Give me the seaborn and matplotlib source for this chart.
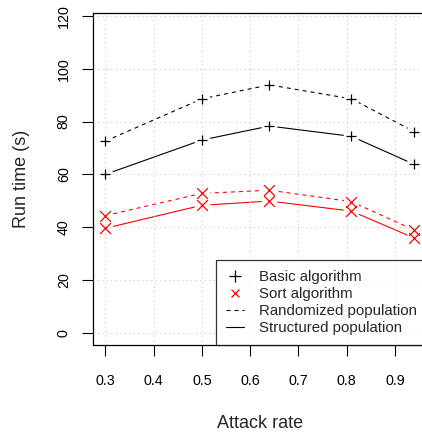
import pandas as pd
import matplotlib.pyplot as plt
import seaborn as sns
from matplotlib.lines import Line2D

# data
attack_rate = [0.3, 0.5, 0.64, 0.81, 0.94]
basic_randomized = [72.6, 88.6, 93.9, 88.6, 76.2]
basic_structured = [60.0, 73.0, 78.3, 74.4, 63.8]
sort_randomized = [44.4, 52.8, 54.0, 49.7, 38.9]
sort_structured = [39.6, 48.3, 49.9, 46.1, 35.9]
x_ticks = [0.3, 0.4, 0.5, 0.6, 0.7, 0.8, 0.9]
y_ticks = [0, 20, 40, 60, 80, 100, 120]

rows = []
for algo, pop, vals in [('Basic', 'Randomized', basic_randomized),
                        ('Basic', 'Structured', basic_structured),
                        ('Sort', 'Randomized', sort_randomized),
                        ('Sort', 'Structured', sort_structured)]:
    for x, v in zip(attack_rate, vals):
        rows.append({'rate': x, 'time': v, 'algorithm': algo, 'population': pop})
df = pd.DataFrame(rows)

sns.set_style('ticks')
plt.rcParams['font.family'] = ['Liberation Sans', 'DejaVu Sans']

fig = plt.figure(figsize=(4.22, 4.34), dpi=100)
ax = fig.add_axes([93 / 422, 89 / 434, 333.5 / 422, 332 / 434])

colors = {'Basic': 'black', 'Sort': 'red'}

# lines (type "b" style: gaps around the points)
sns.lineplot(data=df, x='rate', y='time', hue='algorithm', style='population',
             palette=colors, dashes={'Randomized': (3.6, 3.6), 'Structured': ''},
             linewidth=0.8, legend=False, ax=ax, zorder=1.5)
ax.scatter(df['rate'], df['time'], s=130, color='white', linewidths=0, zorder=2)

# points
for algo, mk in [('Basic', '+'), ('Sort', 'x')]:
    sub = df[df['algorithm'] == algo]
    ax.scatter(sub['rate'], sub['time'], marker=mk, s=60, color=colors[algo],
               linewidths=0.9, zorder=3)

ax.set_xlim(0.2744, 0.9656)
ax.set_ylim(-4.6, 121.1)
ax.set_xticks(x_ticks)
ax.set_yticks(y_ticks)
ax.set_xticklabels([f'{t:.1f}' for t in x_ticks])
ax.set_yticklabels([str(t) for t in y_ticks], rotation=90, va='center')
ax.tick_params(direction='out', length=8, width=0.8, colors='black', labelsize=10.3, pad=8)
ax.tick_params(axis='x', pad=13)

ax.set_axisbelow(False)
ax.grid(True, color='#c8c8c8', linestyle=(0, (1, 3)), linewidth=0.8)
for s in ax.spines.values():
    s.set_color('black')
    s.set_linewidth(0.9)

ax.set_xlabel('Attack rate', fontsize=13, labelpad=19)
ax.set_ylabel('Run time (s)', fontsize=13, labelpad=19)

handles = [
    Line2D([], [], color='black', marker='+', linestyle='none', markersize=8, markeredgewidth=0.9),
    Line2D([], [], color='red', marker='x', linestyle='none', markersize=6, markeredgewidth=0.9),
    Line2D([], [], color='black', linestyle=(0, (3.6, 3.6)), linewidth=0.8),
    Line2D([], [], color='black', linestyle='-', linewidth=0.8),
]
labels = ['Basic algorithm', 'Sort algorithm', 'Randomized population', 'Structured population']
leg = ax.legend(handles, labels, loc='lower right', bbox_to_anchor=(1, 0),
                borderaxespad=0, fontsize=10.8, frameon=True, fancybox=False,
                handlelength=1.2, handletextpad=1.0, labelspacing=0.21,
                borderpad=0.65)
leg.get_frame().set_edgecolor('black')
leg.get_frame().set_linewidth(0.9)
leg.set_zorder(5)

fig.savefig('out.png', dpi=100)
